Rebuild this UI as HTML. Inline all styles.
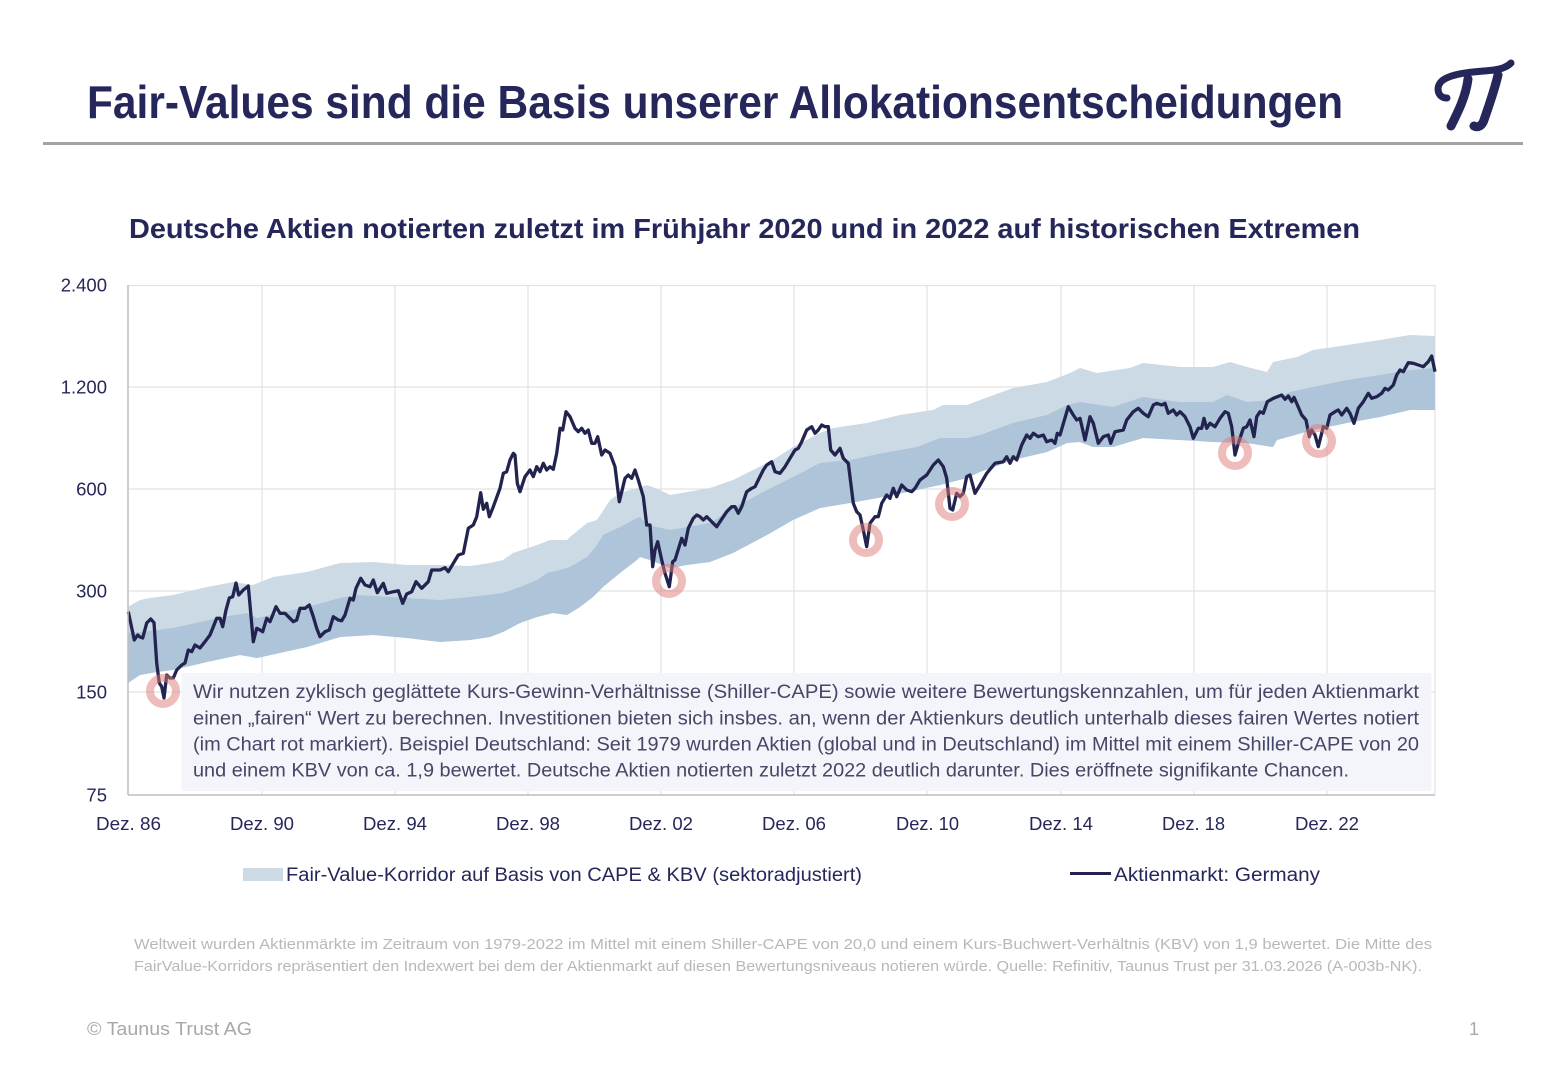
<!DOCTYPE html>
<html>
<head>
<meta charset="utf-8">
<style>
html,body{margin:0;padding:0;background:#fff;}
svg{display:block;}
text{font-family:"Liberation Sans",sans-serif;}
</style>
</head>
<body>
<svg width="1560" height="1080" viewBox="0 0 1560 1080" xmlns="http://www.w3.org/2000/svg">
<rect width="1560" height="1080" fill="#fff"/>

<!-- Title -->
<text x="87" y="118" font-size="46" font-weight="700" fill="#25275a" textLength="1256" lengthAdjust="spacingAndGlyphs">Fair-Values sind die Basis unserer Allokationsentscheidungen</text>
<rect x="43" y="142" width="1480" height="3" fill="#a3a3a3"/>

<!-- Logo -->
<g fill="none" stroke="#25275a" stroke-linecap="round">
  <path d="M1447,98 C1437,98 1435,86 1443,80 C1455,72 1478,72 1494,70 C1502,69 1508,66 1511,63" stroke-width="7"/>
  <path d="M1468,79 C1466,96 1458,112 1451,126" stroke-width="9"/>
  <path d="M1498,75 C1494,92 1488,108 1484,120 C1482,126 1478,128 1474,126" stroke-width="9"/>
</g>

<!-- Subtitle -->
<text x="129" y="238" font-size="28" font-weight="700" fill="#25275a" textLength="1231" lengthAdjust="spacingAndGlyphs">Deutsche Aktien notierten zuletzt im Frühjahr 2020 und in 2022 auf historischen Extremen</text>

<!-- Gridlines -->
<g stroke="#e2e2e2" stroke-width="1.2">
  <line x1="128" y1="285.5" x2="1435" y2="285.5"/>
  <line x1="128" y1="387" x2="1435" y2="387"/>
  <line x1="128" y1="489" x2="1435" y2="489"/>
  <line x1="128" y1="591" x2="1435" y2="591"/>
  <line x1="128" y1="692" x2="1435" y2="692"/>
  <line x1="262" y1="285" x2="262" y2="795"/>
  <line x1="395" y1="285" x2="395" y2="795"/>
  <line x1="528" y1="285" x2="528" y2="795"/>
  <line x1="661" y1="285" x2="661" y2="795"/>
  <line x1="794" y1="285" x2="794" y2="795"/>
  <line x1="927" y1="285" x2="927" y2="795"/>
  <line x1="1061" y1="285" x2="1061" y2="795"/>
  <line x1="1194" y1="285" x2="1194" y2="795"/>
  <line x1="1327" y1="285" x2="1327" y2="795"/>
  <line x1="1435" y1="285" x2="1435" y2="795"/>
</g>

<!-- Bands -->
<polygon fill="#ccdae6" points="128,606.7 140,600 150,598 173,595 207,587 233,582 253,585 273,577 307,572 340,563 373,562 407,565 440,565 470,566 490,563 503,560 513,553 537,545 550,540 567,540 570,537 587,523 597,520 610,500 620,493 637,488 647,485 660,490 670,495 687,492 710,488 733,480 753,470 773,460 793,447 820,433 833,428 867,423 900,415 933,410 943,405 967,405 980,400 1013,388 1047,382 1070,373 1080,368 1097,373 1130,368 1143,363 1180,367 1213,367 1230,362 1247,367 1267,372 1273,362 1297,357 1313,350 1347,345 1380,340 1410,335 1435,336 1435,410 1410,410 1380,417 1347,423 1313,430 1277,440 1273,447 1247,443 1213,442 1180,440 1143,438 1113,447 1093,447 1080,442 1067,443 1047,452 1013,460 980,472 967,478 940,485 917,490 883,497 850,503 820,508 793,520 767,535 733,553 710,562 687,565 670,568 650,560 640,557 637,560 620,573 603,587 593,597 580,607 567,615 553,613 537,617 520,623 503,632 490,637 470,640 440,642 407,638 373,635 340,637 307,647 257,658 240,655 207,662 173,670 157,672 140,675 128,683"/>
<polygon fill="#aec4d8" points="128,633 140,632 173,628 223,617 247,613 257,618 307,607 340,598 357,595 407,598 440,600 470,597 487,595 503,593 520,587 537,580 547,573 560,570 570,567 587,557 597,545 603,535 620,527 637,518 640,517 647,525 657,527 670,530 687,527 710,523 733,508 767,490 793,477 820,463 850,460 883,453 917,447 940,438 967,438 980,435 1013,423 1047,415 1067,405 1080,402 1113,407 1143,397 1180,402 1213,402 1227,395 1247,402 1273,400 1290,392 1313,387 1347,380 1380,375 1410,370 1435,368 1435,410 1410,410 1380,417 1347,423 1313,430 1277,440 1273,447 1247,443 1213,442 1180,440 1143,438 1113,447 1093,447 1080,442 1067,443 1047,452 1013,460 980,472 967,478 940,485 917,490 883,497 850,503 820,508 793,520 767,535 733,553 710,562 687,565 670,568 650,560 640,557 637,560 620,573 603,587 593,597 580,607 567,615 553,613 537,617 520,623 503,632 490,637 470,640 440,642 407,638 373,635 340,637 307,647 257,658 240,655 207,662 173,670 157,672 140,675 128,683"/>

<!-- Market line -->
<polyline fill="none" stroke="#22244f" stroke-width="3.3" stroke-linejoin="round" points="128.3,611.7 134.3,640 137.7,635 140,637 142.7,638 146.7,623 150.7,619 154,622.7 156.7,663 159.3,683 161.7,686.7 164,698 166.7,675 170,678 173.3,678 176.7,670 181.7,665 185,663 188.3,650 191.7,651.7 195,645 200,648 205,641.7 210,635 216.7,618.3 220,618.3 222.7,626.7 226,610 229.3,598 232.7,596.7 236,583 238.7,595 243.3,590 248.3,586 253.3,641.7 256.7,628.3 260,630 262.7,631.7 266.7,618.3 270,621.7 276,606.7 280,613.3 285,613.3 293.3,621.7 296.7,620 300,608.3 305,608.3 309.3,605 313.3,616.7 316.7,628.3 320,636.7 325,631.7 329.3,630 333.3,616.7 338.3,620 341.7,620.7 345,615 350,598.3 353.3,600 356,588.3 360.7,578.3 365,585 370,586.7 373.3,580 377.3,592.7 383.3,583.3 386.7,593.3 393.3,591.7 398.3,590.7 402.7,603.3 406.7,594 411.7,591.7 416,581.7 421.7,588.3 428.3,581.7 431.7,570 440,570 445,567.7 448.3,571.7 453.3,563.3 458.3,555 463.3,553.3 468.3,528.3 473.3,525 476.7,516.7 480.7,492.7 483.3,509.3 486.7,503.3 489.3,516.7 493.3,506.7 500,488.3 503.3,473.3 506.7,471.7 510,460 513.3,453.3 515,455 517.3,483.3 520,491.7 525,476.7 530,470 533.3,476.7 536.7,466.7 540,471.7 543.3,463.3 546.7,470 550,466.7 553.3,469.3 556.7,453.3 560,428.3 562.7,430 566,411.7 570,416.7 575,428.3 578.3,431.7 581.7,428.3 585,433.3 588.3,430 591.7,443.3 595,443.3 597.7,436.7 601.7,455 605,450 610,453.3 615,466.7 619.3,501.7 625,478.3 628.3,475 631.7,478.3 635,470 638.3,480 643.3,496.7 646.7,525 650,525 652.7,566.7 655,550 657.7,541.7 661.7,560 665,573.3 669.3,586.7 672.7,561.7 675,560 681.7,538.3 685,545 688.3,528.3 693.3,518.3 696.7,515 700,516.7 703.3,520 706.7,516.7 710,520 713.3,523.3 716.7,526.7 720,521.7 726.7,511.7 731.7,506.7 735,506.7 738.3,513.3 741.7,506.7 746.7,491.7 751.7,488.3 755,486.7 758.3,480 763.3,470 766.7,465 771.7,461.7 775,471.7 780,473.3 785,466.7 790,458.3 795,450 798.3,448.3 801.7,441.7 806.7,430 811.7,426.7 815,433.3 818.3,430 821.7,425 825,426.7 828.3,426.7 830.7,450 835,455 840,448.3 843.3,458.3 848.3,463.3 853.3,503.3 856.7,511.7 860,515 863.3,530 866.7,546.7 870,523.3 875,516.7 878.3,516.7 881.7,503.3 886.7,495 890,498.3 893.3,488.3 896.7,496.7 901.7,485 906.7,490 911.7,491.7 915,488.3 920,480 926.7,475 933.3,465 938.3,460 943.3,466.7 946.7,478.3 950,508.3 952.7,510 956.7,493.3 960,496.7 963.3,493.3 966.7,476.7 970,475 975,493.3 980,485 986.7,473.3 995,463.3 1003.3,461.7 1006.7,456.7 1010,463.3 1013.3,456.7 1016.7,460 1021.7,445 1026.7,435 1030,438.3 1033.3,433.3 1038.3,436.7 1043.3,435 1046.7,441.7 1051.7,440 1055,443.3 1057.3,433.3 1060,435 1068.3,406.7 1073.3,415 1076.7,420 1080,418.3 1085,440 1090,416.7 1093.3,423.3 1098.3,443.3 1103.3,436.7 1108.3,435 1110.7,443.3 1115,431.7 1123.3,430 1126.7,420 1133.3,411.7 1138.3,408.3 1143.3,413.3 1148.3,416.7 1153.3,405 1156.7,403.3 1161.7,405 1165,403.3 1168.3,413.3 1173.3,410 1176.7,415 1180,411.7 1185,416.7 1190,426.7 1193.3,438.3 1198.3,428.3 1201.7,428.3 1204,418.3 1206.7,428.3 1210,423.3 1215,426.7 1220,418.3 1225,411.7 1228.3,413.3 1231.7,426.7 1235,455 1238.3,443.3 1243.3,428.3 1246.7,426.7 1250,420 1254,436.7 1256.7,416.7 1260,411.7 1263.3,413.3 1267.3,401.7 1273.3,398.3 1281.7,395 1285,399.3 1288.3,396 1291.7,401.7 1294,397.3 1296.7,403.3 1301.7,415 1306,420 1309.3,436.7 1311.7,430 1315,435 1318.3,446.7 1323.3,426.7 1326.7,428.3 1330,415 1335,411.7 1338.3,410 1341.7,415 1346.7,408.3 1350,413.3 1354,423.3 1358.3,408.3 1363.3,401.7 1368.3,393.3 1371.7,398.3 1376.7,396.7 1381.7,393.3 1385,388.3 1388.3,390 1393.3,385 1396.7,375 1400,370 1403.3,371.7 1408.3,362.7 1413.3,363.3 1418.3,365 1423.3,366.7 1428.3,361.7 1431.7,356 1435,371.7"/>

<!-- Red markers -->
<g fill="none" stroke="#e07a7a" stroke-opacity="0.5" stroke-width="8">
  <circle cx="163" cy="691" r="13"/>
  <circle cx="669" cy="581" r="13"/>
  <circle cx="866" cy="540" r="13"/>
  <circle cx="952" cy="504" r="13"/>
  <circle cx="1235" cy="453" r="13"/>
  <circle cx="1319" cy="441" r="13"/>
</g>

<!-- Axes -->
<line x1="128" y1="285" x2="128" y2="795" stroke="#bdbdbd" stroke-width="1.5"/>
<line x1="128" y1="795" x2="1435" y2="795" stroke="#bdbdbd" stroke-width="1.5"/>

<!-- Info box -->
<rect x="181.5" y="673" width="1250" height="118" fill="#f3f5fa"/>
<g font-size="19" fill="#454766">
  <text x="193" y="698" textLength="1226" lengthAdjust="spacingAndGlyphs">Wir nutzen zyklisch geglättete Kurs-Gewinn-Verhältnisse (Shiller-CAPE) sowie weitere Bewertungskennzahlen, um für jeden Aktienmarkt</text>
  <text x="193" y="724.5" textLength="1226" lengthAdjust="spacingAndGlyphs">einen „fairen“ Wert zu berechnen. Investitionen bieten sich insbes. an, wenn der Aktienkurs deutlich unterhalb dieses fairen Wertes notiert</text>
  <text x="193" y="750.5" textLength="1226" lengthAdjust="spacingAndGlyphs">(im Chart rot markiert). Beispiel Deutschland: Seit 1979 wurden Aktien (global und in Deutschland) im Mittel mit einem Shiller-CAPE von 20</text>
  <text x="193" y="776.5" textLength="1156" lengthAdjust="spacingAndGlyphs">und einem KBV von ca. 1,9 bewertet. Deutsche Aktien notierten zuletzt 2022 deutlich darunter. Dies eröffnete signifikante Chancen.</text>
</g>

<!-- Y labels -->
<g font-size="18.5" fill="#25275a" text-anchor="end">
  <text x="107" y="291.5">2.400</text>
  <text x="107" y="393.5">1.200</text>
  <text x="107" y="495.5">600</text>
  <text x="107" y="597.5">300</text>
  <text x="107" y="698.5">150</text>
  <text x="107" y="801.5">75</text>
</g>

<!-- X labels -->
<g font-size="18" fill="#25275a">
  <text x="96" y="830" textLength="65" lengthAdjust="spacingAndGlyphs">Dez. 86</text>
  <text x="230" y="830" textLength="64" lengthAdjust="spacingAndGlyphs">Dez. 90</text>
  <text x="363" y="830" textLength="64" lengthAdjust="spacingAndGlyphs">Dez. 94</text>
  <text x="496" y="830" textLength="64" lengthAdjust="spacingAndGlyphs">Dez. 98</text>
  <text x="629" y="830" textLength="64" lengthAdjust="spacingAndGlyphs">Dez. 02</text>
  <text x="762" y="830" textLength="64" lengthAdjust="spacingAndGlyphs">Dez. 06</text>
  <text x="896" y="830" textLength="63" lengthAdjust="spacingAndGlyphs">Dez. 10</text>
  <text x="1029" y="830" textLength="64" lengthAdjust="spacingAndGlyphs">Dez. 14</text>
  <text x="1162" y="830" textLength="63" lengthAdjust="spacingAndGlyphs">Dez. 18</text>
  <text x="1295" y="830" textLength="64" lengthAdjust="spacingAndGlyphs">Dez. 22</text>
</g>

<!-- Legend -->
<rect x="243" y="868" width="40" height="13" fill="#ccdae6"/>
<text x="286" y="881" font-size="19" fill="#25275a" textLength="576" lengthAdjust="spacingAndGlyphs">Fair-Value-Korridor auf Basis von CAPE &amp; KBV (sektoradjustiert)</text>
<line x1="1070" y1="873.5" x2="1111" y2="873.5" stroke="#22244f" stroke-width="3"/>
<text x="1114" y="881" font-size="19" fill="#25275a" textLength="206" lengthAdjust="spacingAndGlyphs">Aktienmarkt: Germany</text>

<!-- Footnote -->
<g font-size="14.5" fill="#b8b8b8">
  <text x="134" y="949" textLength="1298" lengthAdjust="spacingAndGlyphs">Weltweit wurden Aktienmärkte im Zeitraum von 1979-2022 im Mittel mit einem Shiller-CAPE von 20,0 und einem Kurs-Buchwert-Verhältnis (KBV) von 1,9 bewertet. Die Mitte des</text>
  <text x="134" y="971" textLength="1288" lengthAdjust="spacingAndGlyphs">FairValue-Korridors repräsentiert den Indexwert bei dem der Aktienmarkt auf diesen Bewertungsniveaus notieren würde. Quelle: Refinitiv, Taunus Trust per 31.03.2026 (A-003b-NK).</text>
</g>

<!-- Footer -->
<text x="87" y="1035" font-size="18" fill="#a8a8a8" textLength="165" lengthAdjust="spacingAndGlyphs">© Taunus Trust AG</text>
<text x="1469" y="1035" font-size="18" fill="#a8a8a8">1</text>
</svg>
</body>
</html>
